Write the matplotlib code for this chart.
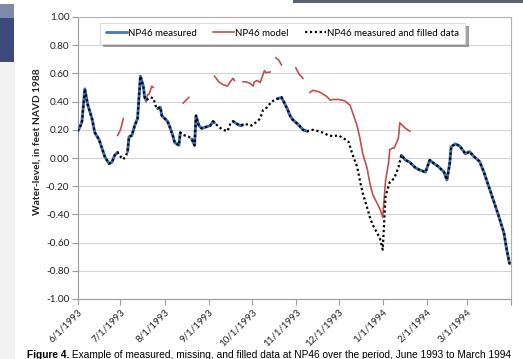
import numpy as np
import pandas as pd
import matplotlib
matplotlib.use("Agg")
import matplotlib.pyplot as plt
import matplotlib.dates as mdates
from matplotlib.patches import Rectangle

# ---------------- data ----------------
filled_dates = [
    "6/1/1993", "6/3/1993", "6/4/1993", "6/6/1993", "6/8/1993", "6/11/1993", "6/13/1993",
    "6/16/1993", "6/18/1993", "6/20/1993", "6/23/1993", "6/25/1993", "6/27/1993", "6/29/1993",
    "7/1/1993", "7/3/1993", "7/5/1993", "7/6/1993", "7/7/1993", "7/9/1993", "7/11/1993",
    "7/13/1993", "7/14/1993", "7/15/1993", "7/17/1993", "7/18/1993", "7/19/1993", "7/22/1993",
    "7/24/1993", "7/26/1993", "7/27/1993", "7/29/1993", "7/30/1993", "8/1/1993", "8/3/1993",
    "8/5/1993", "8/7/1993", "8/8/1993", "8/11/1993", "8/12/1993", "8/15/1993", "8/18/1993",
    "8/20/1993", "8/22/1993", "8/23/1993", "8/25/1993", "8/27/1993", "8/30/1993", "9/2/1993",
    "9/4/1993", "9/5/1993", "9/8/1993", "9/11/1993", "9/14/1993", "9/16/1993", "9/18/1993",
    "9/21/1993", "9/23/1993", "9/25/1993", "9/29/1993", "10/1/1993", "10/5/1993", "10/7/1993",
    "10/9/1993", "10/12/1993", "10/15/1993", "10/19/1993", "10/22/1993", "10/23/1993",
    "10/26/1993", "10/28/1993", "10/30/1993", "11/3/1993", "11/6/1993", "11/9/1993",
    "11/13/1993", "11/17/1993", "11/20/1993", "11/24/1993", "11/27/1993", "12/1/1993",
    "12/6/1993", "12/8/1993", "12/11/1993", "12/14/1993", "12/16/1993", "12/18/1993",
    "12/21/1993", "12/23/1993", "12/25/1993", "12/28/1993", "12/30/1993", "1/1/1994",
    "1/3/1994", "1/6/1994", "1/9/1994", "1/12/1994", "1/14/1994", "1/17/1994", "1/20/1994",
    "1/24/1994", "1/27/1994", "1/31/1994", "2/3/1994", "2/6/1994", "2/9/1994", "2/13/1994",
    "2/15/1994", "2/17/1994", "2/18/1994", "2/21/1994", "2/24/1994", "2/28/1994", "3/3/1994",
    "3/6/1994", "3/10/1994", "3/13/1994", "3/16/1994", "3/20/1994", "3/23/1994", "3/27/1994",
    "3/29/1994", "3/31/1994",
]
filled_values = [
    0.19, 0.23, 0.26, 0.49, 0.38, 0.28, 0.18,
    0.13, 0.07, 0.01, -0.04, -0.03, 0.02, 0.04,
    0.01, -0.01, 0.02, 0.045, 0.15, 0.16, 0.23,
    0.28, 0.43, 0.58, 0.51, 0.43, 0.41, 0.43,
    0.425, 0.36, 0.35, 0.36, 0.30, 0.28, 0.26,
    0.21, 0.15, 0.11, 0.09, 0.18, 0.16, 0.15,
    0.135, 0.09, 0.30, 0.23, 0.21, 0.22, 0.23,
    0.26, 0.25, 0.22, 0.20, 0.19, 0.24, 0.26,
    0.24, 0.23, 0.235, 0.24, 0.23, 0.26, 0.28,
    0.34, 0.36, 0.40, 0.42, 0.43, 0.41,
    0.35, 0.30, 0.27, 0.235, 0.20, 0.19,
    0.20, 0.19, 0.18, 0.16, 0.155, 0.16,
    0.13, 0.115, 0.02, -0.06, -0.16, -0.25,
    -0.35, -0.42, -0.475, -0.53, -0.57, -0.65,
    -0.27, -0.17, -0.145, -0.07, 0.02, -0.015, -0.03,
    -0.07, -0.085, -0.10, -0.015, -0.04, -0.06, -0.10,
    -0.155, -0.04, 0.08, 0.10, 0.085, 0.03, 0.045,
    0.01, -0.025, -0.10, -0.19, -0.31, -0.40, -0.53,
    -0.65, -0.75,
]
# 1 = measured value available, 0 = missing (filled)
measured_flag = [
    1, 1, 1, 1, 1, 1, 1,
    1, 1, 1, 1, 1, 1, 1,
    0, 0, 0, 1, 1, 1, 1,
    1, 1, 1, 1, 1, 1, 0,
    0, 0, 1, 1, 1, 1, 1,
    1, 1, 1, 1, 1, 0, 0,
    1, 1, 1, 1, 1, 1, 1,
    1, 1, 0, 0, 0, 0, 1,
    1, 1, 1, 0, 0, 0, 0,
    0, 0, 0, 1, 1, 1,
    1, 1, 1, 1, 1, 1,
    0, 0, 0, 0, 0, 0,
    0, 0, 0, 0, 0, 0,
    0, 0, 0, 0, 0, 0,
    0, 0, 0, 0, 1, 1, 1,
    1, 1, 1, 1, 1, 1, 1,
    1, 1, 1, 1, 1, 1, 1,
    1, 1, 1, 1, 1, 1, 1,
    1, 1,
]

# model segments (NaN breaks the line between segments)
model_dates = [
    "6/29/1993", "7/1/1993", "7/3/1993", "7/10/1993",
    "7/19/1993", "7/20/1993", "7/21/1993", "7/23/1993", "7/24/1993", "8/1/1993",
    "8/14/1993", "8/18/1993", "8/25/1993",
    "9/5/1993", "9/8/1993", "9/11/1993", "9/14/1993", "9/16/1993", "9/18/1993", "9/19/1993", "9/22/1993",
    "9/25/1993", "9/27/1993", "9/30/1993", "10/2/1993", "10/3/1993", "10/5/1993", "10/7/1993",
    "10/9/1993", "10/10/1993", "10/11/1993", "10/14/1993", "10/16/1993",
    "10/18/1993", "10/20/1993", "10/22/1993", "10/27/1993",
    "11/1/1993", "11/3/1993", "11/6/1993", "11/8/1993",
    "11/11/1993", "11/13/1993", "11/17/1993", "11/19/1993", "11/23/1993", "11/25/1993",
    "11/27/1993", "12/1/1993", "12/4/1993", "12/6/1993", "12/9/1993", "12/11/1993",
    "12/14/1993", "12/16/1993", "12/18/1993", "12/21/1993", "12/23/1993", "12/25/1993",
    "12/28/1993", "12/30/1993", "1/1/1994", "1/3/1994", "1/5/1994", "1/6/1994", "1/8/1994",
    "1/9/1994", "1/12/1994", "1/13/1994", "1/15/1994", "1/17/1994", "1/20/1994",
]
model_values = [
    0.16, 0.20, 0.28, np.nan,
    0.40, 0.45, 0.45, 0.51, 0.50, np.nan,
    0.39, 0.43, np.nan,
    0.58, 0.54, 0.52, 0.51, 0.54, 0.565, 0.55, np.nan,
    0.54, 0.54, 0.53, 0.51, 0.54, 0.55, 0.535,
    0.59, 0.62, 0.605, 0.61, np.nan,
    0.71, 0.695, 0.66, np.nan,
    0.64, 0.60, 0.565, np.nan,
    0.465, 0.48, 0.47, 0.46, 0.435, 0.41,
    0.415, 0.415, 0.41, 0.40, 0.375, 0.32,
    0.23, 0.14, 0.03, -0.07, -0.18, -0.26,
    -0.32, -0.36, -0.42, -0.16, -0.04, 0.06, 0.07,
    0.07, 0.14, 0.25, 0.23, 0.21, 0.19,
]

y_ticks = [-1.0, -0.8, -0.6, -0.4, -0.2, 0.0, 0.2, 0.4, 0.6, 0.8, 1.0]
x_tick_labels = ["6/1/1993", "7/1/1993", "8/1/1993", "9/1/1993", "10/1/1993",
                 "11/1/1993", "12/1/1993", "1/1/1994", "2/1/1994", "3/1/1994"]
legend_labels = ["NP46 measured", "NP46 model", "NP46 measured and filled data"]
y_label = "Water-level, in feet NAVD 1988"
caption_bold = "Figure 4."
caption_text = " Example of measured, missing, and filled data at NP46 over the period, June 1993 to March 1994"

# ---------------- plot ----------------
plt.rcParams['font.family'] = ['Lato', 'DejaVu Sans']

fd = pd.to_datetime(filled_dates, format="%m/%d/%Y")
fv = np.array(filled_values, dtype=float)
mv = np.where(np.array(measured_flag) == 1, fv, np.nan)
md = pd.to_datetime(model_dates, format="%m/%d/%Y")
mval = np.array(model_values, dtype=float)

fig = plt.figure(figsize=(5.23, 3.59), dpi=100)
fig.patch.set_facecolor("white")

# page decorations
fig.patches.append(Rectangle((0, 0), 15 / 523, 1 - 62 / 359, transform=fig.transFigure,
                             facecolor="#f2f2f2", edgecolor="none", zorder=0))
fig.patches.append(Rectangle((0, 1 - 62 / 359), 14 / 523, 44 / 359, transform=fig.transFigure,
                             facecolor="#3b4a7a", edgecolor="none", zorder=0))
fig.patches.append(Rectangle((0, 1 - 18 / 359), 14 / 523, 14 / 359, transform=fig.transFigure,
                             facecolor="#7f8aa8", edgecolor="none", zorder=0))
fig.patches.append(Rectangle((293 / 523, 1 - 3 / 359), 230 / 523, 3 / 359, transform=fig.transFigure,
                             facecolor="#5a6275", edgecolor="none", zorder=0))

ax = fig.add_axes([77.7 / 523, 1 - 299 / 359, (511 - 77.7) / 523, 282 / 359])

ax.plot(fd, mv, color="#3a6cb3", lw=2.1, solid_capstyle="round", zorder=3,
        label=legend_labels[0])
ax.plot(md, mval, color="#c0504d", lw=1.2, zorder=2, label=legend_labels[1])
ax.plot(fd, fv, color="black", lw=1.6, linestyle=(0, (1, 1.2)), zorder=4,
        label=legend_labels[2])

ax.set_ylim(-1.0, 1.0)
ax.set_xlim(pd.Timestamp("1993-06-01"), pd.Timestamp("1994-04-01"))
ax.set_yticks(y_ticks)
ax.set_yticklabels([f"{v:.2f}" for v in y_ticks], fontsize=7.2, color="#222222")
ax.set_xticks(pd.to_datetime(x_tick_labels, format="%m/%d/%Y"))
ax.set_xticklabels(x_tick_labels, rotation=45, ha="right", rotation_mode="anchor",
                   fontsize=7.0, color="#222222")
ax.tick_params(axis="both", length=4, width=0.8, color="#9a9a9a", pad=2)
ax.xaxis.set_minor_locator(mdates.MonthLocator(bymonth=[4]))
ax.tick_params(axis="x", which="minor", length=4, width=0.8, color="#9a9a9a")

ax.grid(axis="y", color="#d4d4d4", lw=0.8)
ax.set_axisbelow(True)
for s in ax.spines.values():
    s.set_color("#b0b0b0")
    s.set_linewidth(0.8)
ax.spines["left"].set_color("#9a9a9a")
ax.spines["bottom"].set_color("#9a9a9a")

handles, labels = ax.get_legend_handles_labels()
leg = ax.legend(handles, labels, ncol=3, loc="upper center", bbox_to_anchor=(0.473, 0.979),
                fontsize=7.0, frameon=True, fancybox=False, shadow=True,
                handlelength=2.1, handletextpad=0.15, columnspacing=1.7,
                borderpad=0.6, borderaxespad=0)
leg.get_frame().set_edgecolor("#d8d8d8")
leg.get_frame().set_linewidth(0.6)
leg.legend_handles[0].set_color("#4a7ebb")

fig.text(37 / 523, 1 - 142 / 359, y_label, rotation=90, ha="center", va="center",
         fontsize=7.3, fontweight="bold", color="#222222")

cap_y = 1 - 357.5 / 359
t1 = fig.text(27 / 523, cap_y, caption_bold, ha="left", va="baseline",
              fontsize=7.3, fontweight="bold", family=["Liberation Sans", "DejaVu Sans"])
fig.canvas.draw()
bb = t1.get_window_extent()
fig.text(bb.x1 / fig.bbox.width, cap_y, caption_text, ha="left", va="baseline",
         fontsize=7.3, family=["Liberation Sans", "DejaVu Sans"])

fig.savefig("out.png", dpi=100, facecolor="white")
